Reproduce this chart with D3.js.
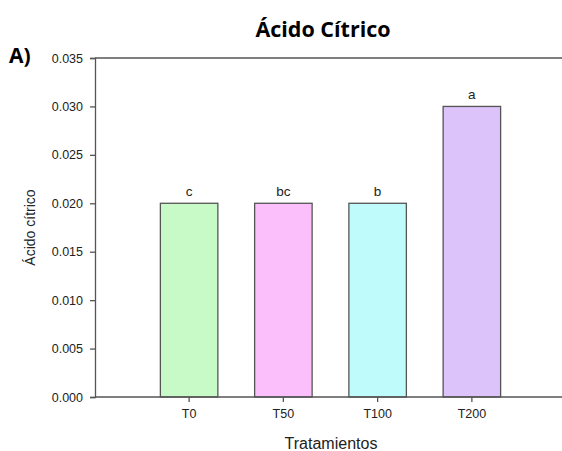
<!DOCTYPE html>
<html>
<head>
<meta charset="utf-8">
<script src="https://cdn.jsdelivr.net/npm/d3@7/dist/d3.min.js"></script>
<style>
  html, body { margin: 0; padding: 0; background: #fff; }
  svg { display: block; }
</style>
</head>
<body>
<script>
// Citric acid content per treatment
const categories = ["T0", "T50", "T100", "T200"];
const values = [0.020, 0.020, 0.020, 0.030];
const letters = ["c", "bc", "b", "a"];
const barColors = ["#c8fac8", "#fbc0fb", "#c0fbfb", "#dcc4fb"];
const yTicks = [0, 0.005, 0.010, 0.015, 0.020, 0.025, 0.030, 0.035];

const W = 562, H = 451;
const plotLeft = 95, plotRight = 566, plotTop = 58, plotBottom = 397;

const svg = d3.select("body").append("svg")
  .attr("width", W).attr("height", H);

const y = d3.scaleLinear().domain([0, 0.035]).range([plotBottom, plotTop]);
const x = d3.scaleBand().domain(categories)
  .range([plotLeft + 47, plotRight - 47])
  .paddingInner(0.39).paddingOuter(0.195);

const axisColor = "#555";

// Frame: top line
svg.append("line")
  .attr("x1", plotLeft).attr("x2", plotRight)
  .attr("y1", plotTop).attr("y2", plotTop)
  .attr("stroke", axisColor).attr("stroke-width", 1.3);

// Bars
svg.selectAll("rect.bar").data(values).join("rect")
  .attr("class", "bar")
  .attr("x", (d, i) => x(categories[i]))
  .attr("width", x.bandwidth())
  .attr("y", d => y(d))
  .attr("height", d => y(0) - y(d))
  .attr("fill", (d, i) => barColors[i])
  .attr("stroke", "#555")
  .attr("stroke-width", 1.3);

// Significance letters
svg.selectAll("text.sig").data(values).join("text")
  .attr("class", "sig")
  .attr("x", (d, i) => x(categories[i]) + x.bandwidth() / 2)
  .attr("y", d => y(d) - 7)
  .attr("text-anchor", "middle")
  .attr("font-family", "Liberation Sans, Arial, sans-serif")
  .attr("font-size", 13.5)
  .attr("fill", "#222")
  .text((d, i) => letters[i]);

// Y axis
const yAxis = svg.append("g")
  .attr("transform", `translate(${plotLeft},0)`)
  .call(d3.axisLeft(y).tickValues(yTicks).tickFormat(d3.format(".3f")).tickSizeOuter(0).tickSize(5).tickPadding(7));
yAxis.select(".domain").attr("stroke", axisColor).attr("stroke-width", 1.3);
yAxis.selectAll(".tick line").attr("stroke", axisColor).attr("stroke-width", 1.3);
yAxis.selectAll(".tick text")
  .attr("font-family", "Liberation Sans, Arial, sans-serif")
  .attr("font-size", 12.5).attr("fill", "#222");

// X axis
const xAxis = svg.append("g")
  .attr("transform", `translate(0,${plotBottom})`)
  .call(d3.axisBottom(x).tickSizeOuter(0).tickSize(5).tickPadding(7));
xAxis.select(".domain").attr("d", `M${plotLeft},0H${plotRight}`)
  .attr("stroke", axisColor).attr("stroke-width", 1.3);
xAxis.selectAll(".tick line").attr("stroke", axisColor).attr("stroke-width", 1.3);
xAxis.selectAll(".tick text")
  .attr("font-family", "Liberation Sans, Arial, sans-serif")
  .attr("font-size", 12.5).attr("fill", "#222");

// Axis titles
svg.append("text")
  .attr("x", 331).attr("y", 449)
  .attr("text-anchor", "middle")
  .attr("font-family", "Liberation Sans, Arial, sans-serif")
  .attr("font-size", 16).attr("fill", "#222")
  .text("Tratamientos");

svg.append("text")
  .attr("transform", `translate(35,${(plotTop + plotBottom) / 2}) rotate(-90)`)
  .attr("text-anchor", "middle")
  .attr("font-family", "Liberation Sans, Arial, sans-serif")
  .attr("font-size", 14).attr("fill", "#222")
  .text("Ácido cítrico");

// Chart title and panel label
svg.append("text")
  .attr("x", 323).attr("y", 37)
  .attr("text-anchor", "middle")
  .attr("font-family", "Open Sans, sans-serif")
  .attr("font-weight", "bold")
  .attr("font-size", 21.5).attr("fill", "#000")
  .text("Ácido Cítrico");

svg.append("text")
  .attr("x", 9).attr("y", 63)
  .attr("font-family", "Open Sans, sans-serif")
  .attr("font-weight", "bold")
  .attr("font-size", 21).attr("fill", "#000")
  .text("A)");
</script>
</body>
</html>
